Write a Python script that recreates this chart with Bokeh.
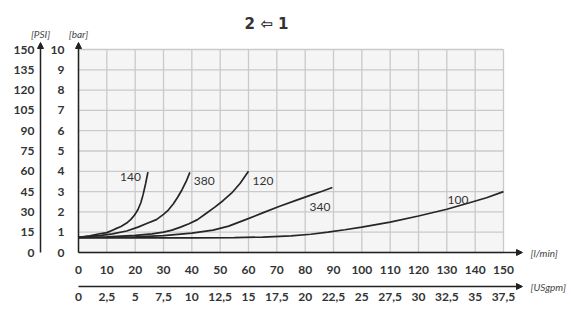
from bokeh.plotting import figure
from bokeh.models import Range1d, LinearAxis, FixedTicker, Arrow, NormalHead, Label
from bokeh.embed import file_html
from bokeh.resources import INLINE

# ---------------- data ----------------
flow_ticks = [0, 10, 20, 30, 40, 50, 60, 70, 80, 90, 100, 110, 120, 130, 140, 150]
usgpm_ticks = [0, 2.5, 5, 7.5, 10, 12.5, 15, 17.5, 20, 22.5, 25, 27.5, 30, 32.5, 35, 37.5]
usgpm_labels = ["0", "2,5", "5", "7,5", "10", "12,5", "15", "17,5", "20", "22,5",
                "25", "27,5", "30", "32,5", "35", "37,5"]
bar_ticks = [0, 1, 2, 3, 4, 5, 6, 7, 8, 9, 10]
psi_ticks = [0, 15, 30, 45, 60, 75, 90, 105, 120, 135, 150]

title_text = "2 \u21e6 1"
unit_psi = "[PSI]"
unit_bar = "[bar]"
unit_flow = "[l/min]"
unit_usgpm = "[USgpm]"

curve_names = ["140", "380", "120", "340", "100"]
flow_140 = [0, 4, 7, 10, 12.8, 15, 17, 18.5, 19.8, 21, 22, 22.8, 23.7, 24.5]
dp_140 = [0.75, 0.82, 0.91, 0.98, 1.15, 1.28, 1.45, 1.63, 1.85, 2.12, 2.45, 2.85, 3.4, 3.96]
flow_380 = [0, 8, 12, 17, 21, 24.5, 27.5, 30, 31.5, 33.5, 35, 36.5, 38, 39.3]
dp_380 = [0.75, 0.84, 0.92, 1.06, 1.25, 1.45, 1.62, 1.88, 2.06, 2.4, 2.72, 3.08, 3.5, 3.95]
flow_120 = [0, 10, 20, 26, 30, 33, 36, 39, 42, 45, 48, 51, 54, 57, 60]
dp_120 = [0.74, 0.77, 0.84, 0.92, 1.0, 1.1, 1.25, 1.42, 1.62, 1.92, 2.22, 2.55, 2.92, 3.4, 4.0]
flow_340 = [0, 10, 20, 30, 40, 47.5, 53, 59, 65, 71, 77, 82.5, 86, 89.6]
dp_340 = [0.74, 0.75, 0.77, 0.83, 0.95, 1.1, 1.3, 1.62, 1.95, 2.28, 2.58, 2.85, 3.02, 3.2]
flow_100 = [0, 20, 40, 55, 65, 75, 82, 88, 94, 100, 110, 120, 130, 138, 144, 150]
dp_100 = [0.72, 0.72, 0.72, 0.73, 0.76, 0.82, 0.9, 1.0, 1.12, 1.25, 1.5, 1.8, 2.13, 2.45, 2.7, 3.0]

curves_flow = [flow_140, flow_380, flow_120, flow_340, flow_100]
curves_dp = [dp_140, dp_380, dp_120, dp_340, dp_100]

# ---------------- layout / style ----------------
W, H = 571, 309
X0_PX, X1_PX = 78, 503        # pixel columns of first / last flow tick
Y0_PX, Y1_PX = 252, 49        # pixel rows of first / last bar tick
x_max = flow_ticks[-1]
y_max = bar_ticks[-1]
ppx = (X1_PX - X0_PX) / x_max
ppy = (Y0_PX - Y1_PX) / y_max
x_start, x_end = -X0_PX / ppx, (W - X0_PX) / ppx
y_start, y_end = -(H - Y0_PX) / ppy, Y0_PX / ppy

flow_per_usgpm = flow_ticks[-1] / usgpm_ticks[-1]
psi_per_bar = psi_ticks[-1] / bar_ticks[-1]

FONT = "Lato"
TXT = "#333333"
AXC = "#222222"

p = figure(width=W, height=H, output_backend="svg", toolbar_location=None, title=None,
           x_range=Range1d(x_start, x_end), y_range=Range1d(y_start, y_end),
           x_axis_type=None, y_axis_type=None,
           min_border_left=0, min_border_right=0, min_border_top=0, min_border_bottom=0)
p.outline_line_color = None
p.background_fill_color = "white"
p.border_fill_color = "white"

p.extra_y_ranges = {"psi": Range1d(y_start * psi_per_bar, y_end * psi_per_bar)}
p.extra_x_ranges = {"usgpm": Range1d(x_start / flow_per_usgpm, x_end / flow_per_usgpm)}

# axis positions (in data units of the cross range)
psi_x = -38 / ppx
us_y = -34 / ppy
tip_y = y_max + 7 / ppy
tip_x = x_max + 19 / ppx


def style_axis(ax, standoff):
    ax.axis_line_color = None
    ax.major_tick_line_color = None
    ax.minor_tick_line_color = None
    ax.major_tick_out = 0
    ax.major_tick_in = 0
    ax.minor_tick_out = 0
    ax.major_label_standoff = standoff
    ax.major_label_text_font = FONT
    ax.major_label_text_font_style = "bold"
    ax.major_label_text_font_size = "12px"
    ax.major_label_text_color = TXT


# chart area background and grid
p.quad(left=[flow_ticks[0]], right=[x_max], bottom=[bar_ticks[0]], top=[y_max],
       fill_color="#f5f5f5", line_color=None)
p.segment(x0=flow_ticks, y0=[bar_ticks[0]] * len(flow_ticks), x1=flow_ticks,
          y1=[y_max] * len(flow_ticks), line_color="#cacaca", line_width=1.3)
p.segment(x0=[flow_ticks[0]] * len(bar_ticks), y0=bar_ticks, x1=[x_max] * len(bar_ticks),
          y1=bar_ticks, line_color="#cacaca", line_width=1.3)

# axes
bar_axis = LinearAxis(ticker=FixedTicker(ticks=bar_ticks, minor_ticks=[]),
                      fixed_location=0, bounds=(bar_ticks[0], y_max))
style_axis(bar_axis, 14)
p.add_layout(bar_axis, "left")

psi_axis = LinearAxis(y_range_name="psi", ticker=FixedTicker(ticks=psi_ticks, minor_ticks=[]),
                      fixed_location=psi_x, bounds=(psi_ticks[0], psi_ticks[-1]))
style_axis(psi_axis, 6)
p.add_layout(psi_axis, "left")

flow_axis = LinearAxis(ticker=FixedTicker(ticks=flow_ticks, minor_ticks=[]),
                       fixed_location=0, bounds=(flow_ticks[0], x_max))
style_axis(flow_axis, 13)
p.add_layout(flow_axis, "below")

us_axis = LinearAxis(x_range_name="usgpm", ticker=FixedTicker(ticks=usgpm_ticks, minor_ticks=[]),
                     fixed_location=us_y, bounds=(usgpm_ticks[0], usgpm_ticks[-1]))
us_axis.major_label_overrides = {t: lab for t, lab in zip(usgpm_ticks, usgpm_labels)}
style_axis(us_axis, 6)
p.add_layout(us_axis, "below")

# curves
for fx, dy in zip(curves_flow, curves_dp):
    p.line(fx, dy, line_color="#262626", line_width=1.7)

# curve labels: (align, x_offset, y_offset) relative to curve end
label_style = [("right", -7, -5), ("left", 4, -8.5), ("left", 4, -10),
               ("right", -2, -19), ("right", -35, -8)]
for name, fx, dy, (al, xo, yo) in zip(curve_names, curves_flow, curves_dp, label_style):
    p.add_layout(Label(x=fx[-1], y=dy[-1], text=name, x_offset=xo, y_offset=yo,
                       text_align=al, text_baseline="middle", text_font=FONT,
                       text_font_size="12px", text_color=TXT))


def axis_arrow(x0, y0, x1, y1):
    p.add_layout(Arrow(x_start=x0, y_start=y0, x_end=x1, y_end=y1,
                       line_color=AXC, line_width=1.5,
                       end=NormalHead(size=6, fill_color=AXC, line_color=AXC, line_width=1)))


axis_arrow(0, 0, 0, tip_y)
axis_arrow(psi_x, 0, psi_x, tip_y)
axis_arrow(0, 0, tip_x, 0)
axis_arrow(0, us_y, tip_x, us_y)

unit_kw = dict(text_font=FONT, text_font_style="italic", text_font_size="10px",
               text_color="#444444", text_baseline="middle")
p.add_layout(Label(x=psi_x, y=tip_y, text=unit_psi, y_offset=9, text_align="center", **unit_kw))
p.add_layout(Label(x=0, y=tip_y, text=unit_bar, y_offset=9, text_align="center", **unit_kw))
p.add_layout(Label(x=tip_x, y=0, text=unit_flow, x_offset=8, text_align="left", **unit_kw))
p.add_layout(Label(x=tip_x, y=us_y, text=unit_usgpm, x_offset=8, text_align="left", **unit_kw))

# title
p.add_layout(Label(x=0, y=y_max, text=title_text, x_offset=188, y_offset=26,
                   text_align="center", text_baseline="middle", text_font="DejaVu Sans",
                   text_font_style="bold", text_font_size="15px", text_color=TXT))

open("out.html", "w").write(file_html(p, INLINE))
